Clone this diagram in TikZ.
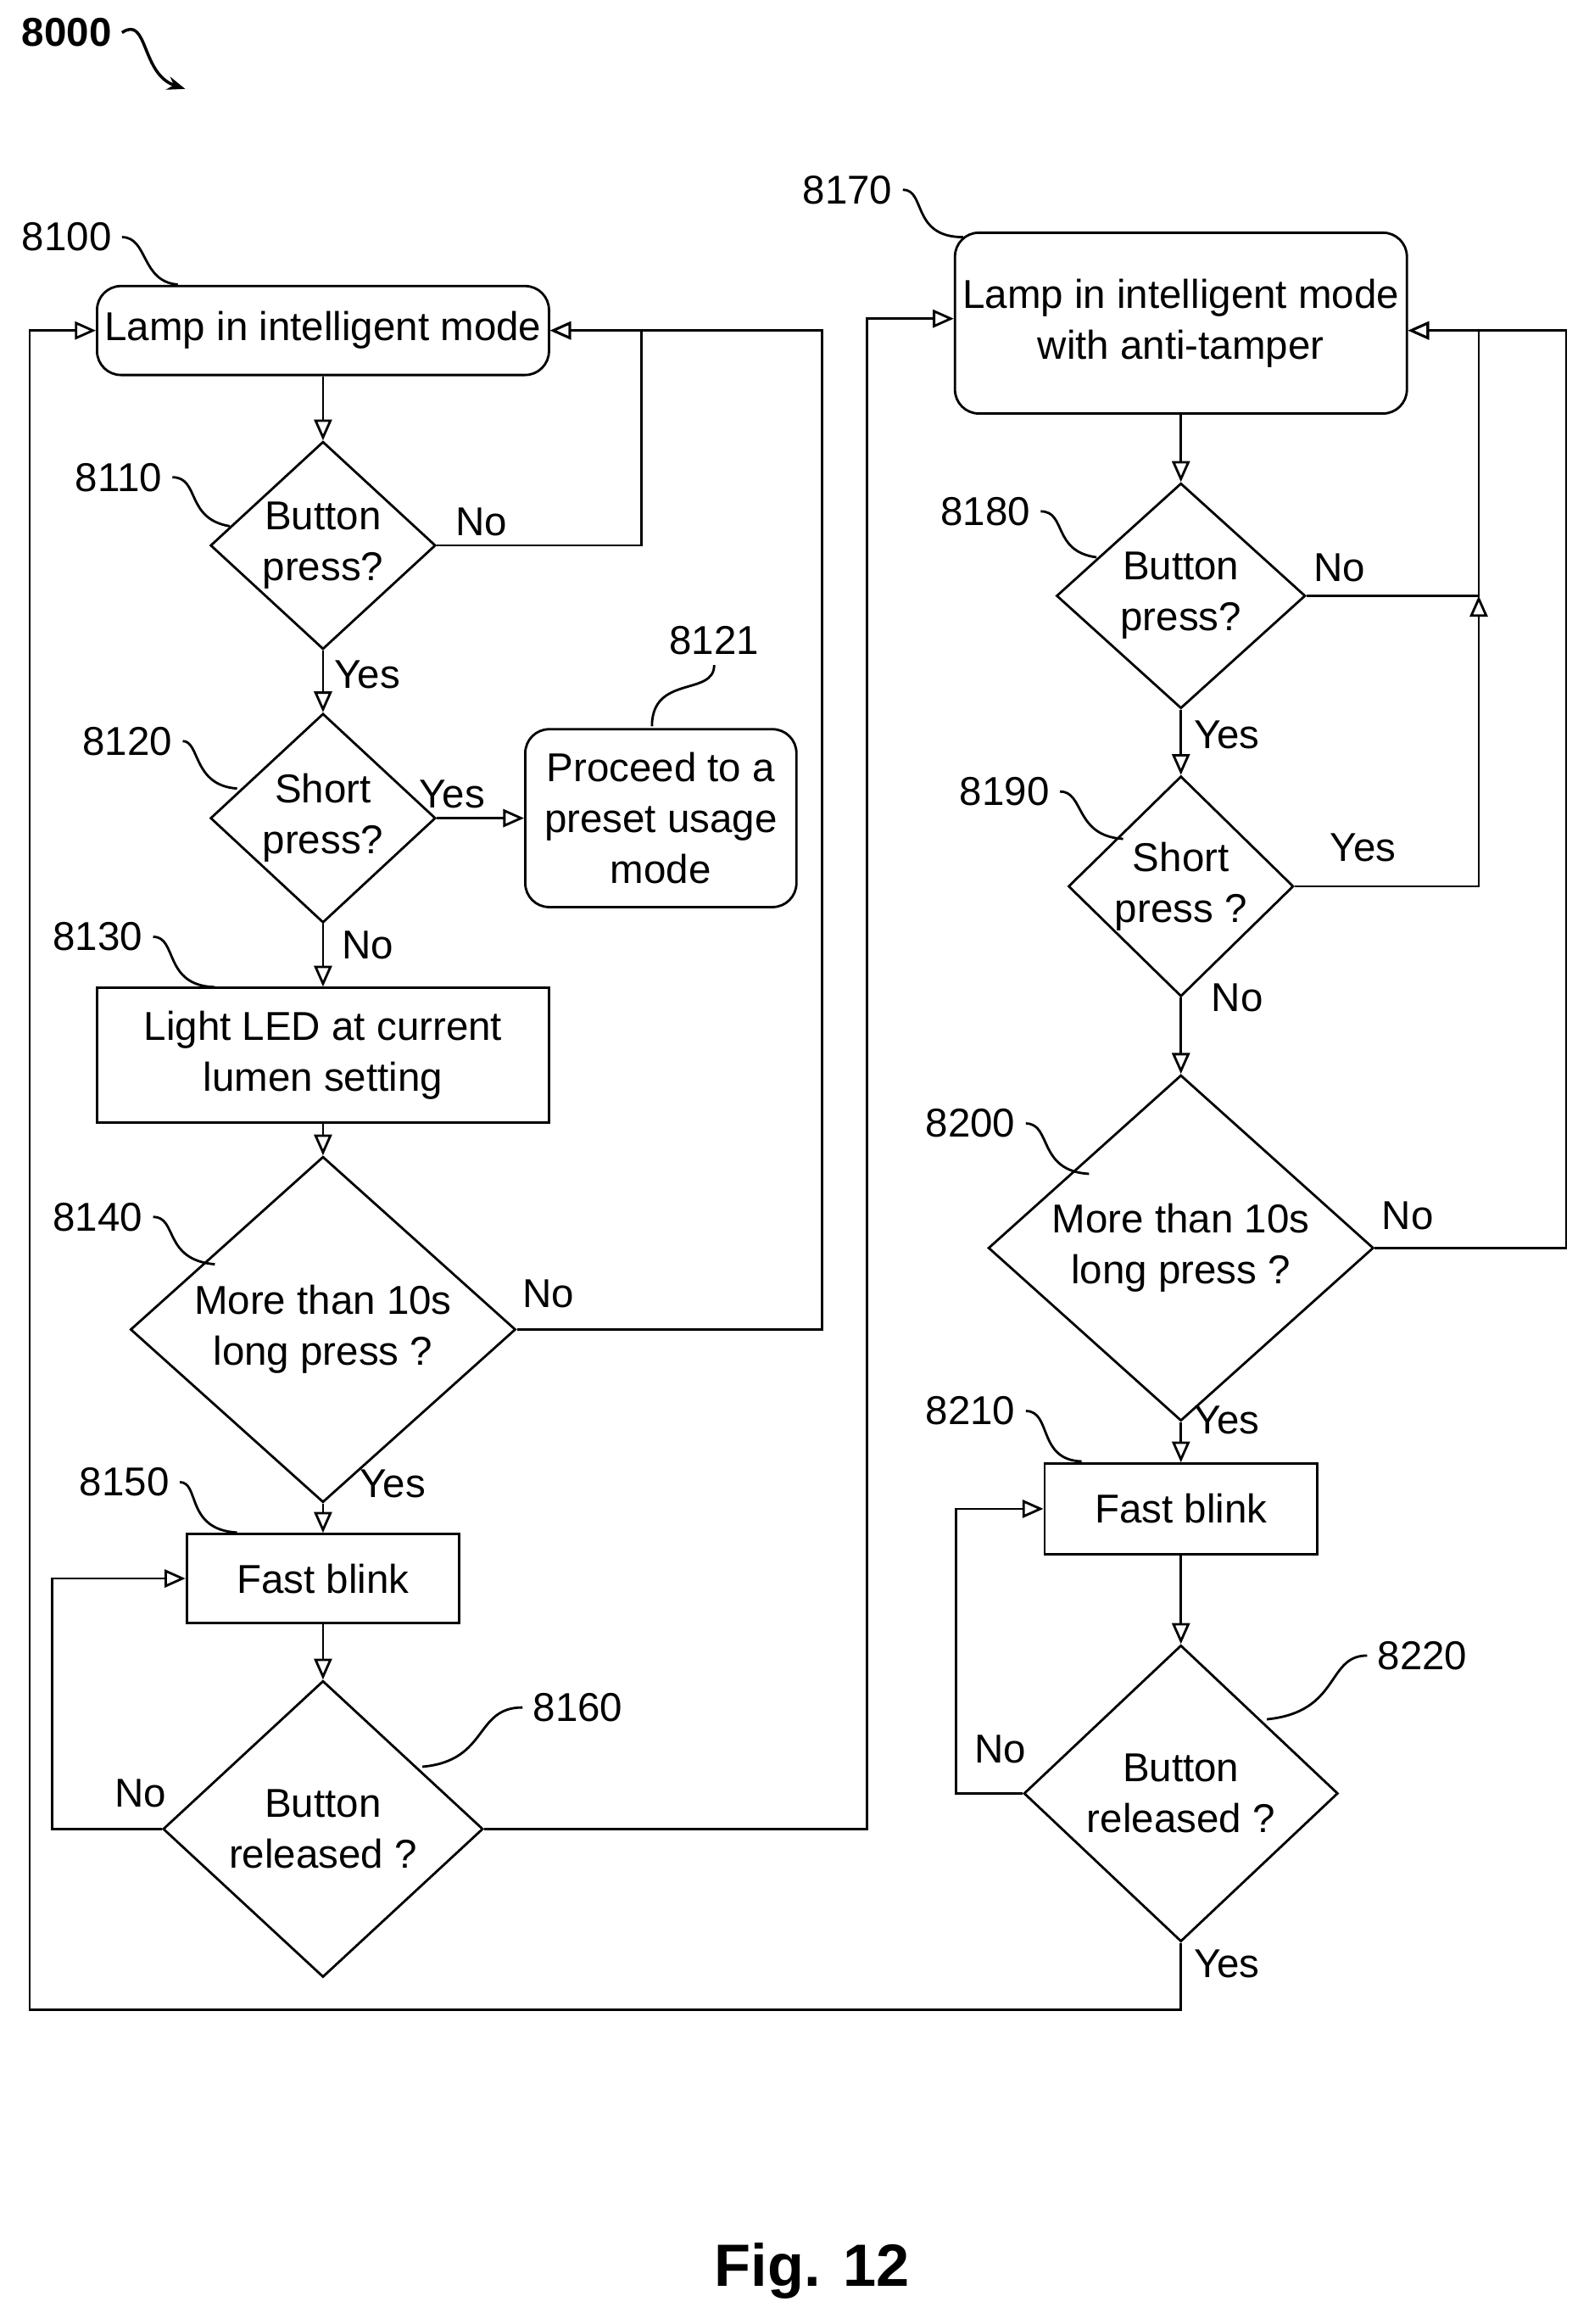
\documentclass[tikz,border=0pt]{standalone}
\usepackage{fontspec}
\setmainfont{Liberation Sans}
\usetikzlibrary{shapes.geometric, arrows.meta}
\def\px{*0.01746cm}
\tikzset{
  base/.style = {draw=black, line width=0.8pt, align=center, font=\fontsize{13.5}{17}\selectfont, inner sep=0pt},
  startstop/.style = {base, rectangle, rounded corners=8pt},
  process/.style = {base, rectangle},
  decision/.style = {base, diamond},
  ref/.style = {font=\fontsize{13.5}{15}\selectfont},
  lbl/.style = {font=\fontsize{13.5}{15}\selectfont},
  arrow/.style = {line width=0.8pt, -{Triangle[open, length=7pt, width=6pt]}},
  line/.style = {line width=0.8pt},
  lead/.style = {line width=0.8pt}
}
\begin{document}
\begin{tikzpicture}[x=0.01746cm, y=-0.01746cm]
        \useasboundingbox (0,0) rectangle (1072,1568);

        % Figure number
        \node[ref, font=\bfseries\fontsize{13.5}{15}\selectfont] (fig) at (45,22) {8000};
        \draw[line width=1pt, -{Stealth[length=6pt]}] (fig.east) .. controls (100,10) and (95,50) .. (125,60);

        % Left column
        \node[startstop, minimum width=305\px, minimum height=60\px] (lamp) at (218,223) {Lamp in intelligent mode};
        \node[decision, minimum width=152\px, minimum height=136\px] (press) at (218,368) {Button\\press?};
        \node[decision, minimum width=152\px, minimum height=136\px] (short) at (218,552) {Short\\press?};
        \node[startstop, minimum width=183\px, minimum height=120\px] (preset) at (446,552) {Proceed to a\\preset usage\\mode};
        \node[process, minimum width=305\px, minimum height=91\px] (led) at (218,712) {Light LED at current\\lumen setting};
        \node[decision, minimum width=260\px, minimum height=200\px] (long) at (218,897) {More than 10s\\long press ?};
        \node[process, minimum width=184\px, minimum height=60\px] (blink) at (218,1065) {Fast blink};
        \node[decision, minimum width=216\px, minimum height=200\px] (release) at (218,1234) {Button\\released ?};

        % Right column
        \node[startstop, minimum width=305\px, minimum height=122\px] (lampat) at (797,218) {Lamp in intelligent mode\\with anti-tamper};
        \node[decision, minimum width=168\px, minimum height=152\px] (pressat) at (797,402) {Button\\press?};
        \node[decision, minimum width=152\px, minimum height=136\px] (shortat) at (797,598) {Short\\press ?};
        \node[decision, minimum width=260\px, minimum height=200\px] (longat) at (797,842) {More than 10s\\long press ?};
        \node[process, minimum width=184\px, minimum height=61\px] (blinkat) at (797,1018) {Fast blink};
        \node[decision, minimum width=212\px, minimum height=200\px] (releaseat) at (797,1210) {Button\\released ?};

        % Reference numerals
        \node[ref] (r8100) at (45,160) {8100};
        \node[ref] (r8110) at (80,322) {8110};
        \node[ref] (r8120) at (86,500) {8120};
        \node[ref] (r8121) at (482,432) {8121};
        \node[ref] (r8130) at (66,632) {8130};
        \node[ref] (r8140) at (66,821) {8140};
        \node[ref] (r8150) at (84,1000) {8150};
        \node[ref] (r8160) at (390,1152) {8160};
        \node[ref] (r8170) at (572,128) {8170};
        \node[ref] (r8180) at (665,345) {8180};
        \node[ref] (r8190) at (678,534) {8190};
        \node[ref] (r8200) at (655,758) {8200};
        \node[ref] (r8210) at (655,952) {8210};
        \node[ref] (r8220) at (960,1117) {8220};

        % Leaders
        \draw[lead] (r8100.east) .. controls (100,160) and (95,190) .. (120,192);
        \draw[lead] (r8110.east) .. controls (135,322) and (125,350) .. (155,355);
        \draw[lead] (r8120.east) .. controls (135,500) and (130,530) .. (160,532);
        \draw[lead] (r8121.south) .. controls (482,470) and (440,455) .. (440,490);
        \draw[lead] (r8130.east) .. controls (120,632) and (110,665) .. (145,666);
        \draw[lead] (r8140.east) .. controls (120,821) and (110,850) .. (145,853);
        \draw[lead] (r8150.east) .. controls (135,1000) and (125,1032) .. (160,1034);
        \draw[lead] (r8160.west) .. controls (320,1152) and (330,1188) .. (285,1192);
        \draw[lead] (r8170.east) .. controls (625,128) and (615,160) .. (650,160);
        \draw[lead] (r8180.east) .. controls (720,345) and (710,372) .. (740,376);
        \draw[lead] (r8190.east) .. controls (732,534) and (725,564) .. (758,566);
        \draw[lead] (r8200.east) .. controls (710,758) and (700,790) .. (735,792);
        \draw[lead] (r8210.east) .. controls (710,952) and (700,985) .. (730,986);
        \draw[lead] (r8220.west) .. controls (895,1117) and (905,1155) .. (855,1160);

        % Left connections
        \draw[arrow] (lamp) -- (press);
        \draw[arrow] (press.east) -- (433,368) -- (433,223) -- (lamp.east);
        \draw[arrow] (press) -- (short);
        \draw[arrow] (short) -- (preset);
        \draw[arrow] (short) -- (led);
        \draw[arrow] (led) -- (long);
        \draw[arrow] (long.east) -- (555,897) -- (555,223) -- (lamp.east);
        \draw[arrow] (long) -- (blink);
        \draw[arrow] (blink) -- (release);
        \draw[arrow] (release.west) -- (35,1234) -- (35,1065) -- (blink.west);
        \draw[arrow] (release.east) -- (585,1234) -- (585,215) -- (lampat.west |- 0,215);

        % Right connections
        \draw[arrow] (lampat) -- (pressat);
        \draw[arrow] (pressat.east) -- (998,402) -- (998,223) -- (lampat.east |- 0,223);
        \draw[arrow] (pressat) -- (shortat);
        \draw[arrow] (shortat.east) -- (998,598) -- (998,402);
        \draw[arrow] (shortat) -- (longat);
        \draw[arrow] (longat.east) -- (1057,842) -- (1057,223) -- (lampat.east |- 0,223);
        \draw[arrow] (longat) -- (blinkat);
        \draw[arrow] (blinkat) -- (releaseat);
        \draw[arrow] (releaseat.west) -- (645,1210) -- (645,1018) -- (blinkat.west);
        \draw[arrow] (releaseat.south) -- (797,1356) -- (20,1356) -- (20,223) -- (lamp.west);

        % Branch labels
        \node[lbl] (n8110) at (325,352) {No};
        \node[lbl] (y8110) at (248,455) {Yes};
        \node[lbl] (y8120) at (305,536) {Yes};
        \node[lbl] (n8120) at (248,638) {No};
        \node[lbl] (n8140) at (370,873) {No};
        \node[lbl] (y8140) at (265,1001) {Yes};
        \node[lbl] (n8160) at (95,1210) {No};
        \node[lbl] (n8180) at (904,383) {No};
        \node[lbl] (y8180) at (828,496) {Yes};
        \node[lbl] (y8190) at (920,572) {Yes};
        \node[lbl] (n8190) at (835,673) {No};
        \node[lbl] (n8200) at (950,820) {No};
        \node[lbl] (y8200) at (828,958) {Yes};
        \node[lbl] (n8220) at (675,1180) {No};
        \node[lbl] (y8220) at (828,1325) {Yes};

        \node[font=\bfseries\fontsize{20}{24}\selectfont] (caption) at (548,1532) {Fig. 12};

    \end{tikzpicture}
\end{document}
